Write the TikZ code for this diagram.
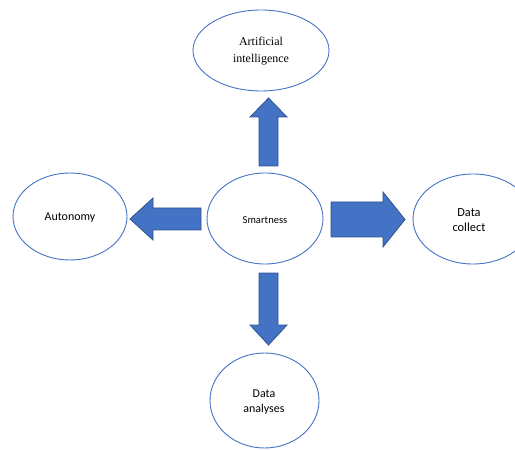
\documentclass[tikz,border=0pt]{standalone}
\usepackage{fontspec}
\setmainfont{Carlito}
\newfontfamily\serifface{Liberation Serif}
\definecolor{ellblue}{HTML}{4472C4}
\definecolor{arrfill}{HTML}{4472C4}
\definecolor{arrline}{HTML}{2F528F}
\begin{document}
\begin{tikzpicture}[x=1bp,y=-1bp,
  ovalline/.style={draw=ellblue, line width=0.9bp},
  blockarrow/.style={draw=arrline, fill=arrfill, line width=0.8bp, line join=miter},
  lbl/.style={align=center, inner sep=0pt}]
\useasboundingbox (0,0) rectangle (515,450);
% ellipses
\draw[ovalline] (261,50.5) ellipse [x radius=68, y radius=40.5];
\draw[ovalline] (70,216.5) ellipse [x radius=57, y radius=43.5];
\draw[ovalline] (265,218.5) ellipse [x radius=58, y radius=45.5];
\draw[ovalline] (473,219) ellipse [x radius=60, y radius=45];
\draw[ovalline] (264.5,400.5) ellipse [x radius=54.5, y radius=47.5];
% labels
\node[lbl, font=\serifface\fontsize{12}{17}\selectfont] (ai) at (261,51) {Artificial\\intelligence};
\node[lbl, font=\fontsize{12}{14}\selectfont] (auto) at (70,218) {Autonomy};
\node[lbl, font=\fontsize{10.6}{12}\selectfont] (smart) at (265,220) {Smartness};
\node[lbl, font=\fontsize{12.4}{14.5}\selectfont] (coll) at (469,220) {Data\\collect};
\node[lbl, font=\fontsize{12}{15}\selectfont] (anal) at (264,402) {Data\\analyses};
% block arrows
\draw[blockarrow] (259,166) -- (259,117) -- (250,117) -- (268.5,98) -- (287,117) -- (278,117) -- (278,166) -- cycle;
\draw[blockarrow] (201,208) -- (153,208) -- (153,198) -- (130,219) -- (153,240) -- (153,230) -- (201,230) -- cycle;
\draw[blockarrow] (331,202) -- (383,202) -- (383,192) -- (405,219.5) -- (383,247) -- (383,237) -- (331,237) -- cycle;
\draw[blockarrow] (259,273) -- (259,325) -- (250,325) -- (268.5,345) -- (287,325) -- (278,325) -- (278,273) -- cycle;
\end{tikzpicture}
\end{document}
